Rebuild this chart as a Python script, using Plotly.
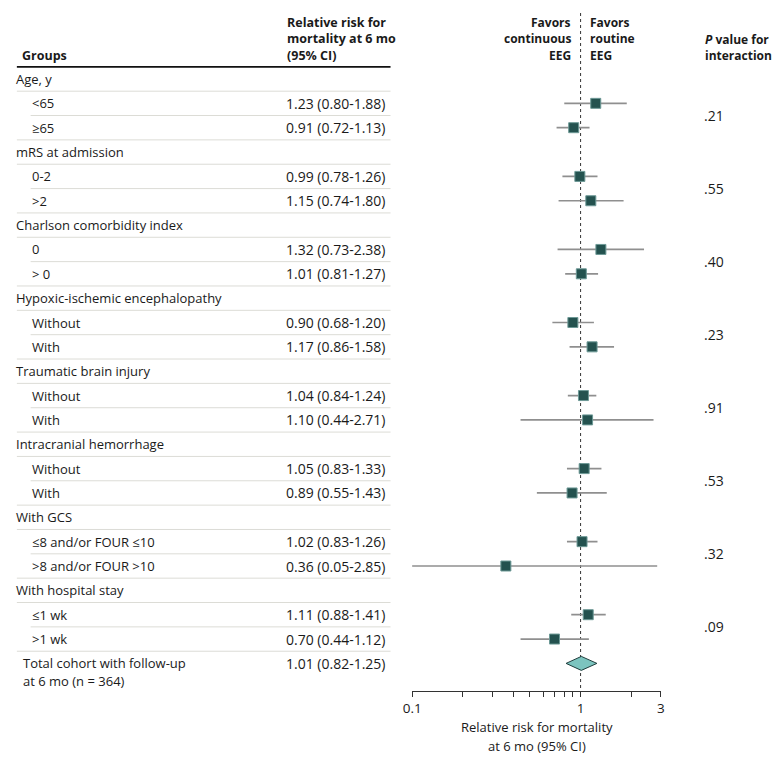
import plotly.graph_objects as go

# ---------------- data ----------------
group_labels = ["Age, y", "mRS at admission", "Charlson comorbidity index",
                "Hypoxic-ischemic encephalopathy", "Traumatic brain injury",
                "Intracranial hemorrhage", "With GCS", "With hospital stay"]
sub_labels = [["<65", "≥65"], ["0-2", ">2"], ["0", "> 0"], ["Without", "With"],
              ["Without", "With"], ["Without", "With"],
              ["≤8 and/or FOUR ≤10", ">8 and/or FOUR >10"], ["≤1 wk", ">1 wk"]]
rr_est = [1.23, 0.91, 0.99, 1.15, 1.32, 1.01, 0.90, 1.17,
          1.04, 1.10, 1.05, 0.89, 1.02, 0.36, 1.11, 0.70]
rr_lo = [0.80, 0.72, 0.78, 0.74, 0.73, 0.81, 0.68, 0.86,
         0.84, 0.44, 0.83, 0.55, 0.83, 0.05, 0.88, 0.44]
rr_hi = [1.88, 1.13, 1.26, 1.80, 2.38, 1.27, 1.20, 1.58,
         1.24, 2.71, 1.33, 1.43, 1.26, 2.85, 1.41, 1.12]
p_values = [".21", ".55", ".40", ".23", ".91", ".53", ".32", ".09"]
total_label = "Total cohort with follow-up"
total_label2 = "at 6 mo (n = 364)"
total_est, total_lo, total_hi = 1.01, 0.82, 1.25
tick_vals = [0.1, 1, 3]
tick_text = ["0.1", "1", "3"]
minor_vals = [0.2, 0.3, 0.4, 0.5, 0.6, 0.7, 0.8, 0.9, 2]

# ---------------- layout helpers ----------------
W, H = 780, 762
FONT = "Open Sans"
TXT = "#1a1a1a"
ROW0_PX, ROW_H = 79.0, 24.35      # pixel center of row 0 and row height
AXIS_PX = 691.0                   # pixel y of x axis line
HDR = 12                          # bold header font size
NUM = 14                          # numeric text size


def px_x(p):
    return p / W


def px_row(p):
    return (p - ROW0_PX) / ROW_H


# row indices
rows_group, rows_sub = [], []
r = 0
for g in group_labels:
    rows_group.append(r)
    rows_sub.extend([r + 1, r + 2])
    r += 3
row_total = r

fig = go.Figure()

# CI lines + squares
fig.add_trace(go.Scatter(
    x=rr_est, y=rows_sub, mode="markers",
    marker=dict(symbol="square", size=10, color="#24524f",
                line=dict(color="#6d9996", width=1)),
    error_x=dict(type="data", symmetric=False,
                 array=[h - e for h, e in zip(rr_hi, rr_est)],
                 arrayminus=[e - l for e, l in zip(rr_est, rr_lo)],
                 color="#8f8f8f", thickness=1.7, width=0),
    showlegend=False, hoverinfo="skip"))

# diamond for total
dh = 7 / ROW_H
fig.add_trace(go.Scatter(
    x=[total_lo, total_est, total_hi, total_est, total_lo],
    y=[row_total, row_total - dh, row_total, row_total + dh, row_total],
    mode="lines", fill="toself", fillcolor="#7cc4bf",
    line=dict(color="#1f3d3c", width=1), showlegend=False, hoverinfo="skip"))

shapes = []
# dotted reference line at 1
shapes.append(dict(type="line", xref="x", yref="y", x0=1, x1=1,
                   y0=px_row(13), y1=px_row(AXIS_PX),
                   line=dict(color="#333333", width=1, dash="dot"), layer="below"))
# header rule
shapes.append(dict(type="line", xref="paper", yref="y", x0=px_x(8), x1=px_x(388),
                   y0=-0.5, y1=-0.5, line=dict(color="#111111", width=1.6)))
# row rules
for gr in rows_group:
    for k, rr in enumerate([gr, gr + 1, gr + 2]):
        x0 = px_x(22) if k == 1 else px_x(8)
        shapes.append(dict(type="line", xref="paper", yref="y", x0=x0, x1=px_x(388),
                           y0=rr + 0.5, y1=rr + 0.5,
                           line=dict(color="#dcdcd6", width=1)))

ann = []


def add_text(x, y, text, xanchor="left", size=13, bold=False):
    if bold:
        text = "<b>" + text + "</b>"
    ann.append(dict(x=x, y=y, xref="paper", yref="y", text=text, showarrow=False,
                    xanchor=xanchor, yanchor="middle",
                    font=dict(family=FONT, size=size, color=TXT)))


def add_lines(x, y_first_px, lines, xanchor="left", size=HDR, bold=True, step=16.8):
    for j, t in enumerate(lines):
        add_text(x, px_row(y_first_px + j * step), t, xanchor=xanchor, size=size, bold=bold)


# headers
add_lines(px_x(11), 55, ["Groups"], size=12.5)
add_lines(px_x(281), 22, ["Relative risk for", "mortality at 6 mo", "(95% CI)"], size=12.5)
add_lines(px_x(574), 22, ["Favors", "continuous", "EEG"], xanchor="right")
add_lines(px_x(589), 22, ["Favors", "routine", "EEG"])
add_lines(px_x(706), 39, ["<i>P</i> value for", "interaction"])

# table rows
i = 0
for gi, g in enumerate(group_labels):
    add_text(px_x(5), rows_group[gi], g)
    for k in range(2):
        rr = rows_sub[i]
        add_text(px_x(21), rr, sub_labels[gi][k])
        add_text(px_x(384), rr, f"{rr_est[i]:.2f} ({rr_lo[i]:.2f}-{rr_hi[i]:.2f})",
                 xanchor="right", size=NUM)
        i += 1
    add_text(px_x(705), rows_group[gi] + 1.5, p_values[gi], size=NUM)

add_text(px_x(12), row_total, total_label)
add_text(px_x(12), row_total + 18 / ROW_H, total_label2)
add_text(px_x(384), row_total, f"{total_est:.2f} ({total_lo:.2f}-{total_hi:.2f})",
         xanchor="right", size=NUM)

# axis title
for j, t in enumerate(["Relative risk for mortality", "at 6 mo (95% CI)"]):
    ann.append(dict(x=px_x(537), y=1 - (727 + 19 * j) / H, xref="paper", yref="paper",
                    text=t, showarrow=False, xanchor="center", yanchor="middle",
                    font=dict(family=FONT, size=13, color=TXT)))

fig.update_layout(
    width=W, height=H, margin=dict(l=0, r=0, t=0, b=0),
    paper_bgcolor="white", plot_bgcolor="white",
    shapes=shapes, annotations=ann,
    font=dict(family=FONT, size=13, color=TXT),
    xaxis=dict(type="log", range=[-1, 0.47712], domain=[px_x(410), px_x(663)],
               tickvals=tick_vals, ticktext=tick_text, ticks="outside", ticklen=5,
               tickwidth=1, tickcolor="#333", showline=True, linecolor="#333",
               linewidth=1, showgrid=False, zeroline=False,
               tickfont=dict(family=FONT, size=13.5, color=TXT),
               minor=dict(tickvals=minor_vals, ticks="outside", ticklen=5,
                          tickcolor="#333", tickwidth=1, showgrid=False)),
    yaxis=dict(range=[px_row(AXIS_PX), px_row(0)], domain=[1 - AXIS_PX / H, 1],
               showticklabels=False, showgrid=False, zeroline=False, showline=False,
               ticks=""),
)

fig.write_html("out.html", post_script="document.body.style.margin='0px';",
               config={"displayModeBar": False})
